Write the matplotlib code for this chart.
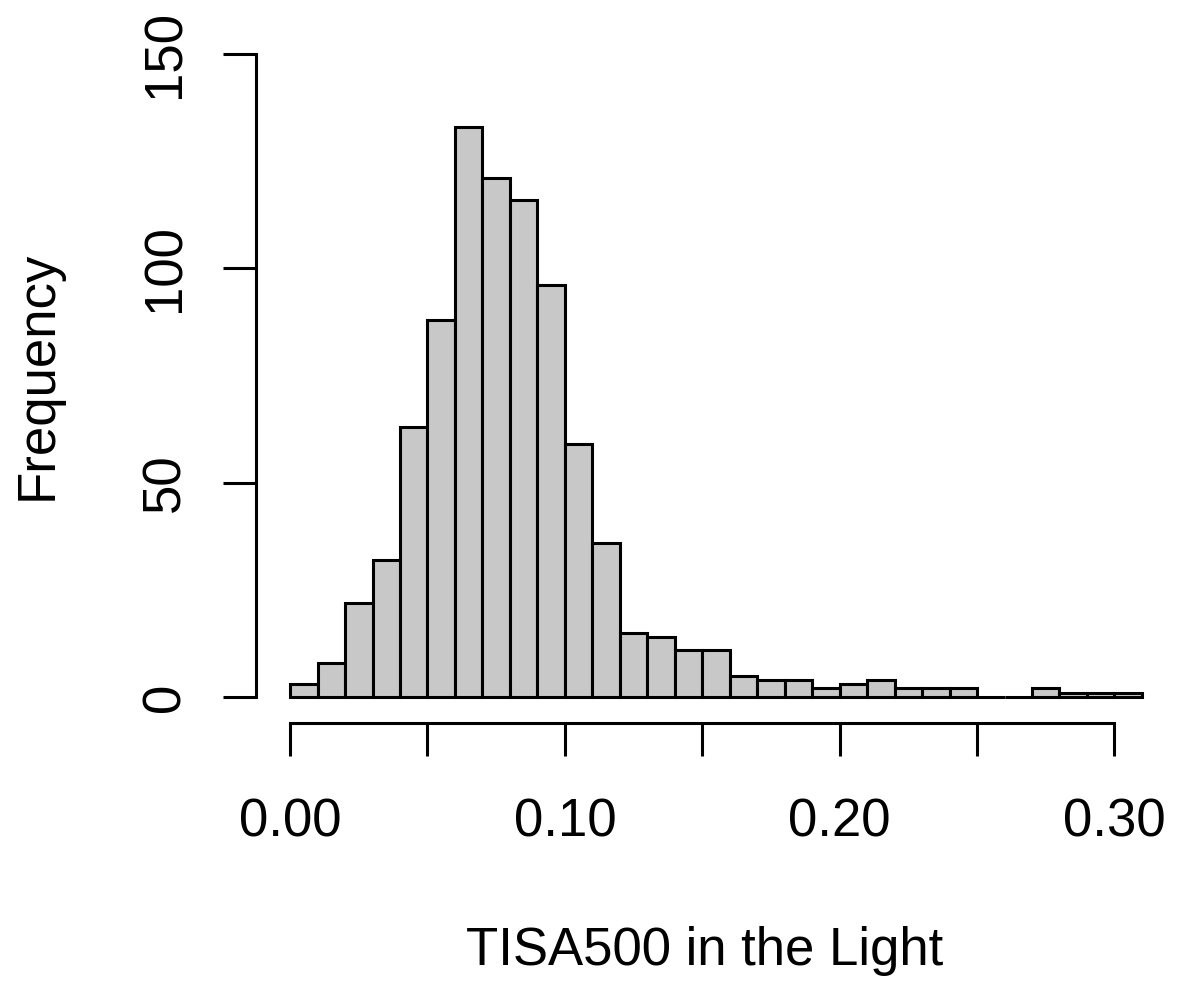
import matplotlib
matplotlib.use("Agg")
import matplotlib.pyplot as plt
import numpy as np

plt.rcParams['font.family'] = ['Liberation Sans', 'DejaVu Sans']

# histogram bins (width 0.01) and counts
bin_edges = np.round(np.arange(0, 0.32, 0.01), 2)
counts = [3, 8, 22, 32, 63, 88, 133, 121, 116, 96, 59, 36, 15, 14, 11, 11,
          5, 4, 4, 2, 3, 4, 2, 2, 2, 0, 0, 2, 1, 1, 1]
x_ticks = [0.00, 0.05, 0.10, 0.15, 0.20, 0.25, 0.30]
x_tick_labels = ['0.00', '', '0.10', '', '0.20', '', '0.30']
y_ticks = [0, 50, 100, 150]

W, H = 1179, 984
fig = plt.figure(figsize=(W / 100, H / 100), dpi=100)
# plot region in pixels: left 256, right 1176, top 28, bottom 722.7
ax = fig.add_axes([256 / W, (H - 722.7) / H, 920 / W, 694.7 / H])

ax.bar(bin_edges[:-1], counts, width=0.01, align='edge',
       color='#c8c8c8', edgecolor='black', linewidth=2.2)

ax.set_xlim(-0.0124, 0.3224)
ax.set_ylim(-6, 156)

for s in ['top', 'right']:
    ax.spines[s].set_visible(False)
ax.spines['left'].set_bounds(0, 150)
ax.spines['bottom'].set_bounds(0, 0.30)
for s in ['left', 'bottom']:
    ax.spines[s].set_linewidth(2.2)

fs = 38
ax.set_xticks(x_ticks)
ax.set_xticklabels(x_tick_labels)
ax.set_yticks(y_ticks)
ax.set_yticklabels([str(v) for v in y_ticks], rotation=90, va='center')
ax.tick_params(axis='both', length=24, width=2.2, labelsize=fs)
ax.tick_params(axis='x', pad=30)
ax.tick_params(axis='y', pad=23)

ax.set_xlabel('TISA500 in the Light', fontsize=fs)
ax.xaxis.set_label_coords((705 - 256) / 920, (722.7 - 951) / 694.7)
ax.xaxis.label.set_va('center')
ax.set_ylabel('Frequency', fontsize=fs)
ax.yaxis.set_label_coords((38 - 256) / 920, 0.5)
ax.yaxis.label.set_va('center')

fig.savefig('out.png', dpi=100)
